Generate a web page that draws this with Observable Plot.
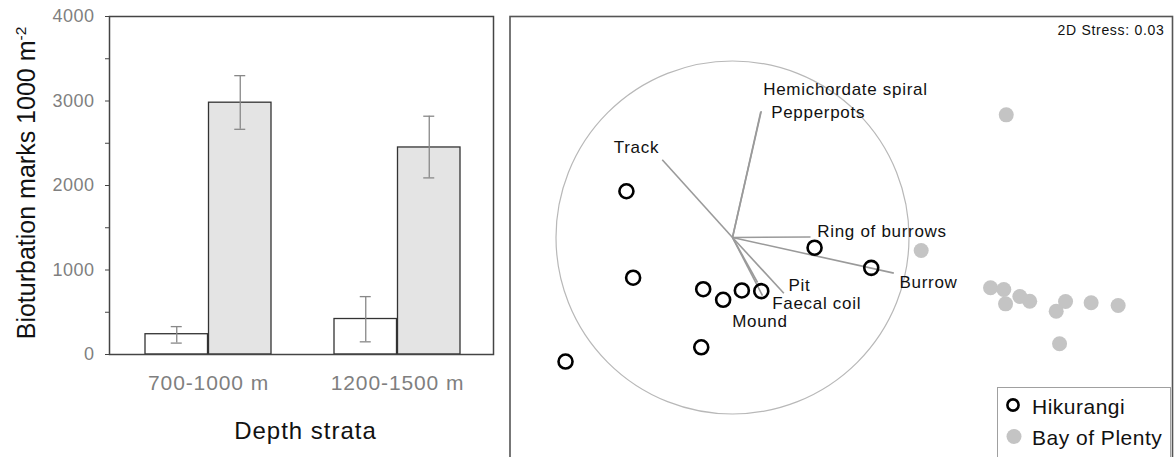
<!DOCTYPE html>
<html>
<head>
<meta charset="utf-8">
<script src="https://cdn.jsdelivr.net/npm/d3@7"></script>
<script src="https://cdn.jsdelivr.net/npm/@observablehq/plot@0.6"></script>
<style>
html, body { margin: 0; padding: 0; background: #fff; }
#page { position: relative; width: 1174px; height: 457px; overflow: hidden; font-family: "Liberation Sans", Arial, sans-serif; }
#left { position: absolute; left: 0; top: 0; }
#right { position: absolute; left: 500px; top: 0; z-index: 1; }
#ylab { position: absolute; left: 26px; top: 183px; transform: translate(-50%, -50%) rotate(-90deg); white-space: nowrap; font-size: 25px; color: #111; line-height: 1; }
#ylab sup { font-size: 0.62em; }
#legend { position: absolute; left: 997px; top: 387px; width: 174px; height: 100px; border: 1.5px solid #a0a0a0; background: #fff; z-index: 0; box-sizing: border-box; }
.leg-item { position: absolute; font-size: 21px; letter-spacing: 0.5px; color: #111; line-height: 1; white-space: nowrap; }
#left [aria-label^="y-axis"] text { fill: #7f7f7f; font-size: 18px; letter-spacing: 0.5px; }
#left [aria-label^="x-axis"] text { fill: #7f7f7f; font-size: 21px; letter-spacing: 0.9px; }
#left g[aria-label="text"] text { letter-spacing: 1px; }
#right g[aria-label="text"] text { letter-spacing: 0.7px; }
</style>
</head>
<body>
<div id="page">
  <div id="left"></div>
  <div id="ylab">Bioturbation marks 1000 m<sup>-2</sup></div>
  <div id="legend"></div>
  <div id="right"></div>
</div>
<script>
// ---------- Bar chart data ----------
const strata = ["700-1000 m", "1200-1500 m"];
const hikMean = [240, 420];
const hikLow = [135, 150];
const hikHigh = [330, 685];
const bopMean = [2980, 2450];
const bopLow = [2665, 2090];
const bopHigh = [3300, 2820];
const yTickValues = [0, 500, 1000, 1500, 2000, 2500, 3000, 3500, 4000];
const yTickLabels = [0, 1000, 2000, 3000, 4000];
const xAxisTitle = "Depth strata";

// ---------- MDS data ----------
const regions = ["Hikurangi", "Bay of Plenty"];
const hikX = [-0.601, -0.563, -0.166, -0.053, 0.053, 0.163, 0.465, 0.786, -0.177, -0.946];
const hikY = [0.262, -0.228, -0.293, -0.353, -0.300, -0.304, -0.058, -0.172, -0.622, -0.703];
const bopX = [1.551, 1.069, 1.462, 1.537, 1.547, 1.628, 1.684, 1.887, 1.834, 2.032, 2.185, 1.853];
const bopY = [0.695, -0.074, -0.285, -0.295, -0.376, -0.334, -0.361, -0.363, -0.418, -0.370, -0.385, -0.602];
const vectorNames = ["Track", "Hemichordate spiral", "Pepperpots", "Ring of burrows", "Burrow", "Pit", "Faecal coil", "Mound"];
const vectorX = [-0.398, 0.163, 0.160, 0.442, 0.914, 0.291, 0.170, 0.142];
const vectorY = [0.440, 0.716, 0.712, 0.003, -0.202, -0.316, -0.329, -0.255];
const vectorLabelX = [-0.673, 0.174, 0.219, 0.480, 0.946, 0.317, 0.225, -0.002];
const vectorLabelY = [0.510, 0.839, 0.710, 0.036, -0.253, -0.275, -0.377, -0.476];
const stressText = "2D Stress: 0.03";

// ---------- Left: bar chart ----------
const hik = strata.map((s, i) => ({strata: s, mean: hikMean[i], lo: hikLow[i], hi: hikHigh[i]}));
const bop = strata.map((s, i) => ({strata: s, mean: bopMean[i], lo: bopLow[i], hi: bopHigh[i]}));
const half = 63.5;      // half of the band width (pixels)
const capHalf = 6;
const left = Plot.plot({
  width: 500, height: 457,
  marginLeft: 109, marginRight: 7, marginTop: 16, marginBottom: 103,
  style: {fontFamily: "Liberation Sans, Arial, sans-serif", fontSize: "18px", color: "#444", background: "white"},
  x: {domain: strata, range: [110.5, 494.5], paddingInner: 0.3316, paddingOuter: 0.1765, tickSize: 0, tickPadding: 21, label: null},
  y: {domain: [0, 4000], ticks: yTickValues, tickFormat: d => yTickLabels.includes(d) ? String(d) : "", tickSize: 4, tickPadding: 11, label: null},
  marks: [
    Plot.barY(hik, {x: "strata", y: "mean", insetRight: half, fill: "white", stroke: "#333", strokeWidth: 1.3}),
    Plot.barY(bop, {x: "strata", y: "mean", insetLeft: half, fill: "#e4e4e4", stroke: "#333", strokeWidth: 1.3}),
    Plot.ruleX(hik, {x: "strata", y1: "lo", y2: "hi", dx: -half / 2, stroke: "#888", strokeWidth: 1.3}),
    Plot.ruleX(bop, {x: "strata", y1: "lo", y2: "hi", dx: half / 2, stroke: "#888", strokeWidth: 1.3}),
    Plot.tickY(hik, {x: "strata", y: "hi", insetLeft: half / 2 - capHalf, insetRight: 2 * half - half / 2 - capHalf, stroke: "#888", strokeWidth: 1.3}),
    Plot.tickY(hik, {x: "strata", y: "lo", insetLeft: half / 2 - capHalf, insetRight: 2 * half - half / 2 - capHalf, stroke: "#888", strokeWidth: 1.3}),
    Plot.tickY(bop, {x: "strata", y: "hi", insetLeft: 2 * half - half / 2 - capHalf, insetRight: half / 2 - capHalf, stroke: "#888", strokeWidth: 1.3}),
    Plot.tickY(bop, {x: "strata", y: "lo", insetLeft: 2 * half - half / 2 - capHalf, insetRight: half / 2 - capHalf, stroke: "#888", strokeWidth: 1.3}),
    Plot.frame({stroke: "#444", strokeWidth: 1.5}),
    Plot.text([xAxisTitle], {frameAnchor: "bottom", dy: 77, dx: 4, lineAnchor: "middle", fontSize: 24, fill: "#111"})
  ]
});
document.getElementById("left").appendChild(left);

// ---------- Right: MDS ordination ----------
const hikPts = hikX.map((x, i) => ({x, y: hikY[i]}));
const bopPts = bopX.map((x, i) => ({x, y: bopY[i]}));
const vectors = vectorNames.map((name, i) => ({name, x: vectorX[i], y: vectorY[i], lx: vectorLabelX[i], ly: vectorLabelY[i]}));
const right = Plot.plot({
  width: 674, height: 480,
  marginLeft: 9.5, marginRight: 2, marginTop: 16, marginBottom: 0,
  style: {fontFamily: "Liberation Sans, Arial, sans-serif", fontSize: "17px", background: "transparent"},
  x: {domain: [-1.2606, 2.4929], axis: null},
  y: {domain: [-1.3768, 1.2521], axis: null},
  marks: [
    Plot.dot([{x: 0, y: 0}], {x: "x", y: "y", r: 176.5, fill: "none", stroke: "#b8b8b8", strokeWidth: 1.2}),
    Plot.link(vectors, {x1: () => 0, y1: () => 0, x2: "x", y2: "y", stroke: "#9a9a9a", strokeWidth: 1.6}),
    Plot.dot(bopPts, {x: "x", y: "y", r: 7.5, fill: "#c4c4c4"}),
    Plot.dot(hikPts, {x: "x", y: "y", r: 7, fill: "none", stroke: "#000", strokeWidth: 2.6}),
    Plot.text(vectors, {x: "lx", y: "ly", text: "name", textAnchor: "start", lineAnchor: "middle", fontSize: 17, fill: "#111"}),
    Plot.text([stressText], {frameAnchor: "top-right", dx: -8, dy: 14, lineAnchor: "middle", fontSize: 14, fill: "#111"}),
    Plot.frame({stroke: "#555", strokeWidth: 1.6})
  ]
});
document.getElementById("right").appendChild(right);

// ---------- Legend ----------
const legend = document.getElementById("legend");
const legendStyles = [
  {y: 18, marker: '<circle cx="16" cy="18" r="5.6" fill="none" stroke="#000" stroke-width="2.6"/>'},
  {y: 49.5, marker: '<circle cx="17" cy="49.5" r="7.5" fill="#c4c4c4"/>'}
];
legend.insertAdjacentHTML("beforeend",
  `<svg width="40" height="80" style="position:absolute;left:-1.5px;top:-1.5px">${legendStyles.map(d => d.marker).join("")}</svg>`);
regions.forEach((name, i) => {
  const div = document.createElement("div");
  div.className = "leg-item";
  div.textContent = name;
  div.style.left = "34px";
  div.style.top = (legendStyles[i].y - 1.5 - 9) + "px";
  legend.appendChild(div);
});
</script>
</body>
</html>
